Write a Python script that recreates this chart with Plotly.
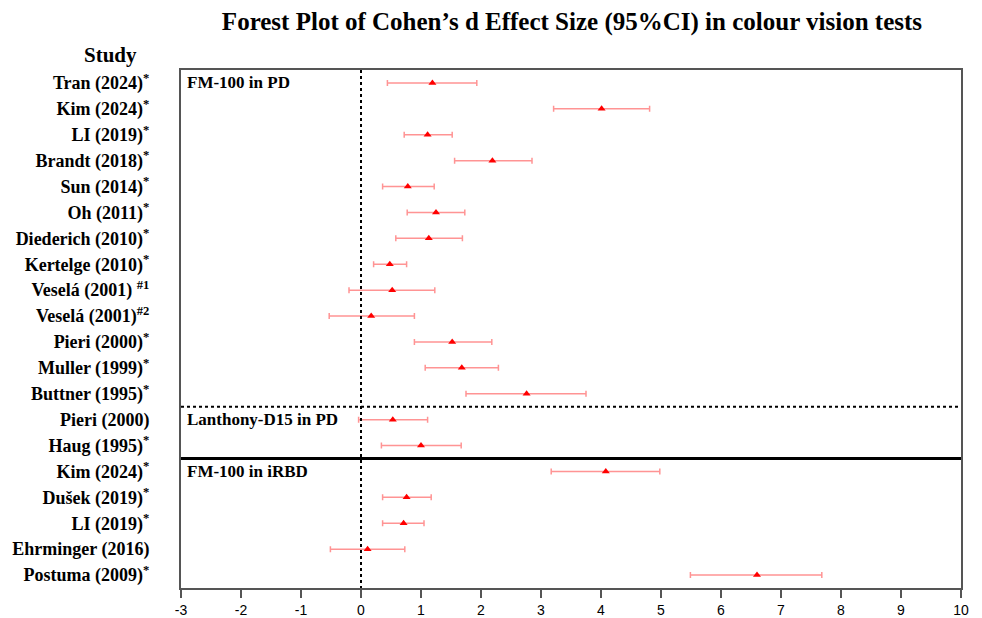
import plotly.graph_objects as go

studies = ["Tran (2024)", "Kim (2024)", "LI (2019)", "Brandt (2018)", "Sun (2014)", "Oh (2011)",
           "Diederich (2010)", "Kertelge (2010)", "Veselá (2001) ", "Veselá (2001)", "Pieri (2000)",
           "Muller (1999)", "Buttner (1995)", "Pieri (2000)", "Haug (1995)", "Kim (2024)",
           "Dušek (2019)", "LI (2019)", "Ehrminger (2016)", "Postuma (2009)"]
marks = ["*", "*", "*", "*", "*", "*", "*", "*", "#1", "#2", "*", "*", "*", "", "*", "*", "*", "*", "", "*"]
effect = [1.19, 4.01, 1.11, 2.19, 0.78, 1.25, 1.13, 0.48, 0.52, 0.17, 1.52, 1.68, 2.76,
          0.53, 1.00, 4.08, 0.76, 0.71, 0.11, 6.60]
lower = [0.44, 3.21, 0.72, 1.56, 0.36, 0.77, 0.58, 0.21, -0.20, -0.53, 0.89, 1.07, 1.75,
         -0.04, 0.34, 3.17, 0.36, 0.36, -0.51, 5.49]
upper = [1.93, 4.81, 1.52, 2.85, 1.22, 1.73, 1.69, 0.76, 1.23, 0.89, 2.18, 2.29, 3.75,
         1.11, 1.67, 4.98, 1.17, 1.05, 0.73, 7.68]
groups = ["FM-100 in PD", "Lanthony-D15 in PD", "FM-100 in iRBD"]
group_start = [0, 13, 15]
x_ticks = list(range(-3, 11))

rows = list(range(len(studies)))
ticktext = ["<b>" + s + (f"<sup>{m}</sup>" if m else "") + "</b>" for s, m in zip(studies, marks)]

serif = "Liberation Serif, Times New Roman, serif"

fig = go.Figure()
fig.add_trace(go.Scatter(
    x=effect, y=rows, mode="markers",
    marker=dict(symbol="triangle-up", size=7, color="red"),
    error_x=dict(type="data", symmetric=False,
                 array=[u - e for u, e in zip(upper, effect)],
                 arrayminus=[e - l for e, l in zip(effect, lower)],
                 color="rgba(255,90,90,0.65)", thickness=1.5, width=3),
    showlegend=False, hoverinfo="skip"))

# reference lines
fig.add_shape(type="line", x0=0, x1=0, y0=-0.5, y1=19.5, xref="x", yref="y",
              line=dict(color="black", width=2, dash="dot"))
fig.add_shape(type="line", x0=-3, x1=10, y0=12.5, y1=12.5, xref="x", yref="y",
              line=dict(color="black", width=2, dash="dot"))
fig.add_shape(type="line", x0=-3, x1=10, y0=14.5, y1=14.5, xref="x", yref="y",
              line=dict(color="black", width=3))

for g, s in zip(groups, group_start):
    fig.add_annotation(x=0, xref="paper", y=s, yref="y", text=f"<b>{g}</b>",
                       showarrow=False, xanchor="left", yanchor="middle", xshift=4,
                       font=dict(family=serif, size=17, color="black"))

fig.add_annotation(x=-0.091, xref="paper", y=1.0, yref="paper", xanchor="center",
                   yanchor="bottom", yshift=1,
                   text="<b>Study</b>", showarrow=False,
                   font=dict(family=serif, size=21, color="black"))

fig.update_layout(
    width=974, height=610,
    margin=dict(l=173, r=21, t=62, b=30),
    paper_bgcolor="white", plot_bgcolor="white",
    title=dict(text="<b>Forest Plot of Cohen’s d Effect Size (95%CI) in colour vision tests</b>",
               x=0.579, xanchor="center", y=0.978, yanchor="middle",
               font=dict(family=serif, size=25, color="black")),
    xaxis=dict(range=[-3, 10], tickvals=x_ticks, ticktext=[str(t) for t in x_ticks],
               automargin=False,
               showgrid=False, zeroline=False, showline=True, linecolor="#555", linewidth=2,
               mirror=True, ticks="outside", ticklen=8, tickcolor="#555", tickwidth=1.5,
               tickfont=dict(family="Liberation Sans, Arial", size=14, color="black")),
    yaxis=dict(range=[19.5, -0.5], tickvals=rows, ticktext=ticktext,
               automargin=False,
               showgrid=False, zeroline=False, showline=True, linecolor="#555", linewidth=2,
               mirror=True, ticks="", ticklabelstandoff=26,
               tickfont=dict(family=serif, size=18, color="black")),
)

fig.write_html("out.html")
